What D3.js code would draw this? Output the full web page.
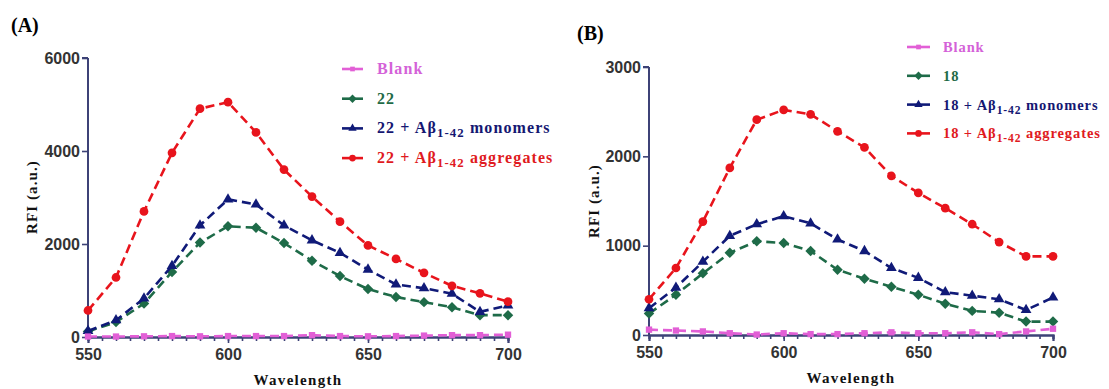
<!DOCTYPE html>
<html><head><meta charset="utf-8">
<script src="https://cdn.jsdelivr.net/npm/d3@7"></script>
<style>body{margin:0;background:#fff}</style>
</head><body>
<svg id="c" width="1109" height="389"></svg>
<script>
const wavelengths = [550,560,570,580,590,600,610,620,630,640,650,660,670,680,690,700];

const blankA = [10,10,15,20,15,20,20,20,40,20,15,20,30,40,40,50];
const cmp22 = [120,320,720,1400,2030,2380,2350,2020,1640,1310,1030,860,750,640,470,470];
const cmp22Mono = [130,360,830,1530,2400,2960,2850,2400,2080,1810,1450,1130,1050,930,540,680];
const cmp22Agg = [570,1280,2700,3960,4910,5050,4400,3600,3020,2480,1970,1680,1380,1100,940,760];

const blankB = [60,50,40,20,5,20,10,10,20,30,20,20,30,10,40,70];
const cmp18 = [240,450,690,920,1050,1030,940,730,630,540,450,350,270,250,150,150];
const cmp18Mono = [300,530,820,1110,1240,1330,1250,1070,940,750,640,480,440,400,280,420];
const cmp18Agg = [400,750,1270,1870,2410,2520,2470,2280,2100,1780,1590,1420,1240,1040,880,880];

const yTicksA = [0,2000,4000,6000];
const yTicksB = [0,1000,2000,3000];
const xTicks = [550,600,650,700];

const colors = {blank:"#e25fd6", cmp:"#1e6b48", mono:"#101a78", agg:"#e8141c"};
const legendColors = {blank:"#d462d8", cmp:"#1f6b47", mono:"#151772", agg:"#e01a1e"};

const svg = d3.select("#c");

function panel(cfg){
  const g = svg.append("g");
  const x = d3.scaleLinear().domain([550,700]).range(cfg.xr);
  const y = d3.scaleLinear().domain(cfg.yd).range(cfg.yr);
  const axisColor = "#3d4277";

  const ya = g.append("g").attr("transform",`translate(${cfg.xr[0]},0)`)
    .call(d3.axisLeft(y).tickValues(cfg.yTicks).tickSize(6).tickPadding(2).tickFormat(d3.format("d")));
  g.append("g").attr("transform",`translate(0,${cfg.yr[0]})`)
    .call(d3.axisBottom(x).tickValues(d3.range(550,701,5)).tickSize(4).tickFormat(""));
  g.append("g").attr("transform",`translate(0,${cfg.yr[0]})`)
    .call(d3.axisBottom(x).tickValues(xTicks).tickSize(6).tickPadding(6).tickFormat(d3.format("d")));
  g.selectAll(".domain").attr("stroke",axisColor).attr("stroke-width",2);
  g.selectAll(".tick line").attr("stroke",axisColor).attr("stroke-width",1.6);
  g.selectAll(".tick text").attr("font-family","'Liberation Sans',Arial,sans-serif")
    .attr("font-weight","bold").attr("font-size",16).attr("fill","#333");
  ya.select(".domain").attr("d",`M0,${cfg.yr[0]}V${cfg.yr[1]}M-6,${cfg.yr[1]}H0`);

  const diamond = {draw(ctx,size){const r=Math.sqrt(size/2);ctx.moveTo(0,-r);ctx.lineTo(r,0);ctx.lineTo(0,r);ctx.lineTo(-r,0);ctx.closePath();}};
  const series = [
    {k:"cmp", vals:cfg.cmp, sym:diamond, size:55},
    {k:"mono", vals:cfg.mono, sym:d3.symbolTriangle, size:50},
    {k:"agg", vals:cfg.agg, sym:d3.symbolCircle, size:60},
    {k:"blank", vals:cfg.blank, sym:d3.symbolSquare, size:40}
  ];
  const line = d3.line().x((d,i)=>x(wavelengths[i])).y(d=>y(d));
  series.forEach(s=>{
    g.append("path").datum(s.vals).attr("d",line).attr("fill","none")
      .attr("stroke",colors[s.k]).attr("stroke-width",2.6).attr("stroke-dasharray","9,5");
    g.selectAll(null).data(s.vals).enter().append("path")
      .attr("transform",(d,i)=>`translate(${x(wavelengths[i])},${y(d)})`)
      .attr("d",d3.symbol().type(s.sym).size(s.size)).attr("fill",colors[s.k]);
  });

  g.append("text").attr("x",(cfg.xr[0]+cfg.xr[1])/2).attr("y",cfg.xlabY)
    .attr("text-anchor","middle").attr("font-family","'Liberation Serif','Times New Roman',serif")
    .attr("font-weight","bold").attr("font-size",15).attr("letter-spacing",1.3).attr("fill","#111")
    .text("Wavelength");
  g.append("text").attr("transform",`translate(${cfg.ylabX},${cfg.ylabY}) rotate(-90)`)
    .attr("text-anchor","middle").attr("font-family","'Liberation Serif','Times New Roman',serif")
    .attr("font-weight","bold").attr("font-size",15).attr("letter-spacing",1.1).attr("fill","#111")
    .text("RFI (a.u.)");
  g.append("text").attr("x",cfg.tagX).attr("y",cfg.tagY)
    .attr("font-family","'Liberation Serif','Times New Roman',serif")
    .attr("font-weight","bold").attr("font-size",20).attr("fill","#000").text(cfg.tag);

  const leg = [
    {k:"blank", sym:d3.symbolSquare, size:22, parts:[["Blank"]]},
    {k:"cmp", sym:diamond, size:35, parts:[[cfg.name]]},
    {k:"mono", sym:d3.symbolTriangle, size:30, parts:[[cfg.name+" + A\u03B2"],["1-42","sub"],[" monomers"]]},
    {k:"agg", sym:d3.symbolCircle, size:35, parts:[[cfg.name+" + A\u03B2"],["1-42","sub"],[" aggregates"]]}
  ];
  leg.forEach((l,i)=>{
    const yy = cfg.legY + i*cfg.legDy;
    g.append("line").attr("x1",cfg.legX).attr("x2",cfg.legX+cfg.legLine).attr("y1",yy).attr("y2",yy)
      .attr("stroke",colors[l.k]).attr("stroke-width",2.6);
    g.append("path").attr("transform",`translate(${cfg.legX+cfg.legLine/2},${yy})`)
      .attr("d",d3.symbol().type(l.sym).size(l.size)).attr("fill",colors[l.k]);
    const t = g.append("text").attr("x",cfg.legTextX).attr("y",yy+5)
      .attr("font-family","'Liberation Serif','Times New Roman',serif").attr("font-weight","bold")
      .attr("font-size",cfg.legFont).attr("letter-spacing",cfg.legSp).attr("fill",legendColors[l.k]);
    l.parts.forEach(p=>{
      if(p[1]==="sub"){
        t.append("tspan").attr("dy",4).attr("font-size",cfg.legFont*0.8).text(p[0]);
      } else if (t.selectAll("tspan").size()>0){
        t.append("tspan").attr("dy",-4).text(p[0]);
      } else t.append("tspan").text(p[0]);
    });
  });
}

panel({xr:[88,508], yr:[337,58], yd:[0,6000], yTicks:yTicksA,
  blank:blankA, cmp:cmp22, mono:cmp22Mono, agg:cmp22Agg, name:"22",
  xlabY:385, ylabX:37, ylabY:197, tag:"(A)", tagX:11, tagY:32,
  legX:342, legLine:21, legTextX:377, legY:69, legDy:29.7, legFont:16, legSp:1.1});
panel({xr:[649,1053], yr:[335,67], yd:[0,3000], yTicks:yTicksB,
  blank:blankB, cmp:cmp18, mono:cmp18Mono, agg:cmp18Agg, name:"18",
  xlabY:383, ylabX:599, ylabY:201, tag:"(B)", tagX:577, tagY:40,
  legX:907, legLine:23, legTextX:943, legY:47, legDy:28.8, legFont:14.5, legSp:0.9});
</script>
</body></html>
